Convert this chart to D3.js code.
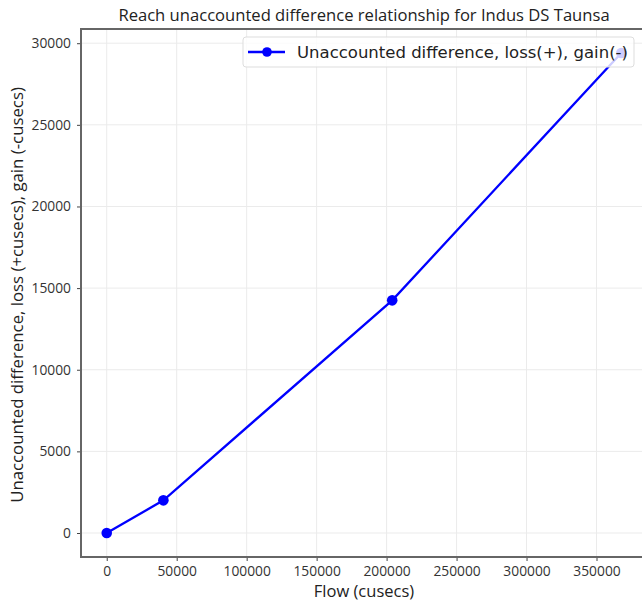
<!DOCTYPE html>
<html><head><meta charset="utf-8">
<script src="https://cdn.jsdelivr.net/npm/d3@7"></script>
<style>body{margin:0;background:#fff;overflow:hidden}</style>
</head><body>
<svg id="c" width="642" height="603"></svg>
<script>
const flows = [0, 40500, 204000, 367700];
const diffs = [0, 2000, 14250, 29400];
const xTicks = [0, 50000, 100000, 150000, 200000, 250000, 300000, 350000];
const yTicks = [0, 5000, 10000, 15000, 20000, 25000, 30000];
const titleText = "Reach unaccounted difference relationship for Indus DS Taunsa";
const xLabel = "Flow (cusecs)";
const yLabel = "Unaccounted difference, loss (+cusecs), gain (-cusecs)";
const legendLabel = "Unaccounted difference, loss(+), gain(-)";

const svg = d3.select("#c");
const L = 81, R = 647, T = 29, B = 557;
const xr = d3.extent(flows), yr = d3.extent(diffs);
const xm = (xr[1]-xr[0])*0.05, ym = (yr[1]-yr[0])*0.05;
const x = d3.scaleLinear().domain([xr[0]-xm, xr[1]+xm]).range([L, R]);
const y = d3.scaleLinear().domain([yr[0]-ym, yr[1]+ym]).range([B, T]);
const tickFont = "'Open Sans', sans-serif";

// grid
svg.append("g").selectAll("line").data(xTicks).join("line")
  .attr("x1", d=>x(d)).attr("x2", d=>x(d)).attr("y1", T).attr("y2", B)
  .attr("stroke", "#ebebeb").attr("stroke-width", 1);
svg.append("g").selectAll("line").data(yTicks).join("line")
  .attr("y1", d=>y(d)).attr("y2", d=>y(d)).attr("x1", L).attr("x2", R)
  .attr("stroke", "#ebebeb").attr("stroke-width", 1);

// axes
const xa = svg.append("g").attr("transform", `translate(0,${B})`)
  .call(d3.axisBottom(x).tickValues(xTicks).tickFormat(d3.format("d")).tickSize(4).tickPadding(5));
const ya = svg.append("g").attr("transform", `translate(${L},0)`)
  .call(d3.axisLeft(y).tickValues(yTicks).tickFormat(d3.format("d")).tickSize(4).tickPadding(6));
[xa, ya].forEach(a => {
  a.select(".domain").remove();
  a.selectAll("line").attr("stroke", "#444");
  a.selectAll("text").attr("fill", "#333").style("font-family", tickFont).style("font-size", "13.8px");
});
// frame
svg.append("rect").attr("x", L).attr("y", T).attr("width", R-L).attr("height", B-T)
  .attr("fill", "none").attr("stroke", "#666").attr("stroke-width", 2);

// line and points
const line = d3.line().x((d,i)=>x(flows[i])).y(d=>y(d));
svg.append("path").datum(diffs).attr("d", line)
  .attr("fill", "none").attr("stroke", "#0000ff").attr("stroke-width", 2.3);
svg.append("g").selectAll("circle").data(diffs).join("circle")
  .attr("cx", (d,i)=>x(flows[i])).attr("cy", d=>y(d)).attr("r", 5.3).attr("fill", "#0000ff");

// legend
const lg = svg.append("g");
lg.append("rect").attr("x", 243).attr("y", 37).attr("width", 391).attr("height", 30).attr("rx", 3)
  .attr("fill", "rgba(255,255,255,0.8)").attr("stroke", "#ddd").attr("stroke-width", 1);
lg.append("line").attr("x1", 248).attr("x2", 285).attr("y1", 52).attr("y2", 52)
  .attr("stroke", "#0000ff").attr("stroke-width", 2.3);
lg.append("circle").attr("cx", 267).attr("cy", 52).attr("r", 4.8).attr("fill", "#0000ff");
lg.append("text").attr("x", 297).attr("y", 58).text(legendLabel)
  .style("font-family", "'DejaVu Sans', sans-serif").style("font-size", "16.5px").attr("fill", "#222");

// title and labels
svg.append("text").attr("x", (L+R)/2).attr("y", 21).attr("text-anchor", "middle")
  .text(titleText).style("font-family", tickFont).style("font-size", "16.6px").attr("fill", "#222");
svg.append("text").attr("x", (L+R)/2).attr("y", 597).attr("text-anchor", "middle")
  .text(xLabel).style("font-family", tickFont).style("font-size", "16.5px").attr("fill", "#222");
svg.append("text").attr("transform", `translate(23,295) rotate(-90)`).attr("text-anchor", "middle")
  .text(yLabel).style("font-family", tickFont).style("font-size", "16.8px").attr("fill", "#222");
</script>
</body></html>
